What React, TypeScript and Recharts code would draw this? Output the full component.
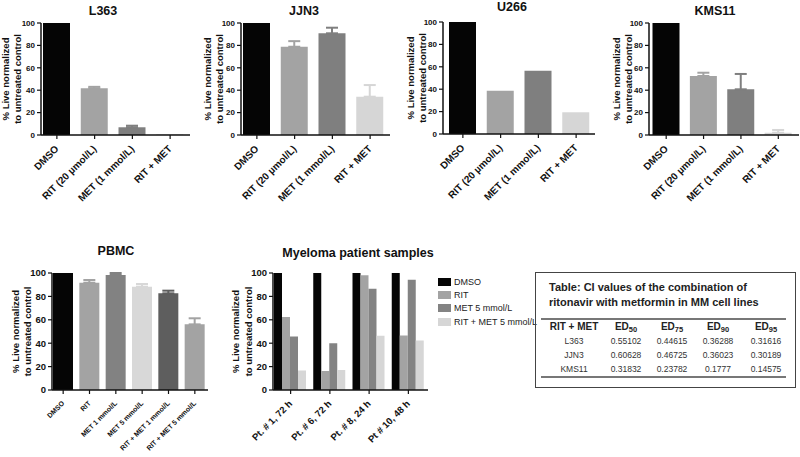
import { BarChart, Bar, XAxis, YAxis, ErrorBar, Legend } from 'recharts'

const FONT = '"Liberation Sans", Arial, Helvetica, sans-serif'
const INK = '#111'

const yTicks = [0, 20, 40, 60, 80, 100]
const yLabelLines = ['% Live normalized', 'to untreated control']

// cell line panels
const cellLineTreatments = ['DMSO', 'RIT (20 µmol/L)', 'MET (1 mmol/L)', 'RIT + MET']
const cellLineColors = ['#050505', '#a3a3a3', '#7f7f7f', '#d6d6d6']
const l363Values = [100, 41.7, 6.9, 0.7]
const l363Errors = [0, 1.3, 1.4, 0]
const jjn3Values = [100, 78.8, 90.8, 34.2]
const jjn3Errors = [0, 5, 5, 10.4]
const u266Values = [100, 38.7, 56.5, 19.4]
const u266Errors = [0, 0, 0, 0]
const kms11Values = [100, 52.7, 40.8, 2]
const kms11Errors = [0, 2.9, 13.7, 2.5]

// PBMC
const pbmcTreatments = ['DMSO', 'RIT', 'MET 1 mmol/L', 'MET 5 mmol/L', 'RIT + MET 1 mmol/L', 'RIT + MET 5 mmol/L']
const pbmcColors = ['#050505', '#a3a3a3', '#828282', '#d8d8d8', '#5e5e5e', '#a3a3a3']
const pbmcValues = [100, 91.7, 98.3, 88.3, 82.6, 56.1]
const pbmcErrors = [0, 2.3, 1.7, 2.3, 2.3, 5.2]

// patient samples
const patients = ['Pt. # 1, 72 h', 'Pt. # 6, 72 h', 'Pt. # 8, 24 h', 'Pt # 10, 48 h']
const patientSeries = ['DMSO', 'RIT', 'MET 5 mmol/L', 'RIT + MET 5 mmol/L']
const patientColors = ['#050505', '#a3a3a3', '#838383', '#d6d6d6']
const patientDmso = [100, 100, 100, 100]
const patientRit = [62.3, 16.3, 98, 46.6]
const patientMet = [45.7, 40, 86.6, 94.3]
const patientRitMet = [16.6, 17.1, 46.3, 42.3]

// CI table
const ciTitle = ['Table: CI values of the combination of', 'ritonavir with metformin in MM cell lines']
const ciDoses = ['50', '75', '90', '95']
const ciLines = ['L363', 'JJN3', 'KMS11']
const ciEd50 = ['0.55102', '0.60628', '0.31832']
const ciEd75 = ['0.44615', '0.46725', '0.23782']
const ciEd90 = ['0.36288', '0.36023', '0.1777']
const ciEd95 = ['0.31616', '0.30189', '0.14575']

function SlantTick(props: any) {
  const { x, y, payload, size } = props
  return (
    <text
      x={x}
      y={y}
      dy="0.35em"
      textAnchor="end"
      transform={`rotate(-45 ${x} ${y})`}
      fontSize={size}
      fontWeight="bold"
      fill={INK}
    >
      {payload.value}
    </text>
  )
}

function YLabel(props: any) {
  const { viewBox, xs, size } = props
  const cy = viewBox.y + viewBox.height / 2
  return (
    <g>
      {yLabelLines.map((line, i) => (
        <text
          key={line}
          x={xs[i]}
          y={cy}
          dy="0.35em"
          textAnchor="middle"
          transform={`rotate(-90 ${xs[i]} ${cy})`}
          fontSize={size}
          fontWeight="bold"
          fill={INK}
        >
          {line}
        </text>
      ))}
    </g>
  )
}

interface PanelProps {
  left: number
  top: number
  width: number
  height: number
  title: string
  titleX: number
  titleY: number
  categories: string[]
  values: number[]
  errors: number[]
  colors: string[]
  axisX: number
  plotRight: number
  plotTop: number
  plotBottom: number
  padLeft: number
  padRight: number
  barSize: number
  yTickSize: number
  xTickSize: number
  yLabelSize: number
  yLabelXs: number[]
}

// title centred on (x, y) inside its panel
function Title({ x, y, text }: { x: number; y: number; text: string }) {
  return (
    <div
      style={{
        position: 'absolute',
        left: x - 100,
        top: y - 8,
        width: 200,
        height: 16,
        fontSize: 12.5,
        lineHeight: '16px',
        fontWeight: 'bold',
        textAlign: 'center',
        whiteSpace: 'nowrap',
        zIndex: 2,
      }}
    >
      {text}
    </div>
  )
}

function ViabilityPanel(p: PanelProps) {
  const rows = p.categories.map((name, i) => {
    const row: Record<string, unknown> = { name, [`v${i}`]: p.values[i] }
    if (p.errors[i]) row[`e${i}`] = [0, p.errors[i]]
    return row
  })

  return (
    <div style={{ position: 'absolute', left: p.left, top: p.top, width: p.width, height: p.height }}>
      <BarChart
        width={p.width}
        height={p.height}
        data={rows}
        margin={{ top: p.plotTop, right: p.width - p.plotRight, bottom: 0, left: 0 }}
      >
        <XAxis
          dataKey="name"
          type="category"
          height={p.height - p.plotBottom}
          padding={{ left: p.padLeft, right: p.padRight }}
          interval={0}
          tick={<SlantTick size={p.xTickSize} />}
          tickSize={4}
          tickMargin={8}
          axisLine={{ stroke: INK, strokeWidth: 1.5 }}
          tickLine={{ stroke: INK, strokeWidth: 1.2 }}
        />
        <YAxis
          type="number"
          domain={[0, 100]}
          ticks={yTicks}
          allowDataOverflow
          width={p.axisX}
          tickSize={4}
          tickMargin={2}
          tick={{ fontSize: p.yTickSize, fontWeight: 'bold', fill: INK }}
          axisLine={{ stroke: INK, strokeWidth: 1.5 }}
          tickLine={{ stroke: INK, strokeWidth: 1.2 }}
          label={<YLabel xs={p.yLabelXs} size={p.yLabelSize} />}
        />
        {p.categories.map((_, i) => (
          <Bar
            key={i}
            dataKey={`v${i}`}
            stackId="s"
            fill={p.colors[i]}
            barSize={p.barSize}
            isAnimationActive={false}
          >
            <ErrorBar dataKey={`e${i}`} width={6} stroke={p.colors[i]} strokeWidth={2} direction="y" />
          </Bar>
        ))}
      </BarChart>
      <Title x={p.titleX} y={p.titleY} text={p.title} />
    </div>
  )
}

function PatientLegend(props: any) {
  const items = [...(props.payload || [])].sort(
    (a: any, b: any) => patientSeries.indexOf(a.value) - patientSeries.indexOf(b.value)
  )
  return (
    <div style={{ fontSize: 9, color: '#222' }}>
      {items.map((item: any) => (
        <div key={item.value} style={{ display: 'flex', alignItems: 'center', height: 13.4 }}>
          <span style={{ display: 'inline-block', width: 13, height: 8, background: item.color, marginRight: 3 }} />
          <span style={{ whiteSpace: 'nowrap' }}>{item.value}</span>
        </div>
      ))}
    </div>
  )
}

function PatientPanel() {
  const rows = patients.map((name, i) => ({
    name,
    dmso: patientDmso[i],
    rit: patientRit[i],
    met: patientMet[i],
    ritMet: patientRitMet[i],
  }))
  const keys = ['dmso', 'rit', 'met', 'ritMet']
  const width = 330
  const height = 227

  return (
    <div style={{ position: 'absolute', left: 220, top: 230, width, height }}>
      <BarChart
        width={width}
        height={height}
        data={rows}
        margin={{ top: 43, right: width - 208, bottom: 0, left: 0 }}
        barGap={0}
        barCategoryGap={3}
      >
        <XAxis
          dataKey="name"
          type="category"
          height={height - 160}
          padding={{ left: -2, right: 0 }}
          interval={0}
          tick={<SlantTick size={9.5} />}
          tickSize={4}
          tickMargin={8}
          axisLine={{ stroke: INK, strokeWidth: 1.5 }}
          tickLine={{ stroke: INK, strokeWidth: 1.2 }}
        />
        <YAxis
          type="number"
          domain={[0, 100]}
          ticks={yTicks}
          allowDataOverflow
          width={53}
          tickSize={4}
          tickMargin={2}
          tick={{ fontSize: 9.5, fontWeight: 'bold', fill: INK }}
          axisLine={{ stroke: INK, strokeWidth: 1.5 }}
          tickLine={{ stroke: INK, strokeWidth: 1.2 }}
          label={<YLabel xs={[16, 29]} size={9.5} />}
        />
        <Legend
          layout="vertical"
          align="center"
          verticalAlign="middle"
          wrapperStyle={{ left: 218, top: 45, width: 'auto' }}
          content={<PatientLegend />}
        />
        {keys.map((k, i) => (
          <Bar key={k} dataKey={k} name={patientSeries[i]} fill={patientColors[i]} isAnimationActive={false} />
        ))}
      </BarChart>
      <Title x={138} y={23} text="Myeloma patient samples" />
    </div>
  )
}

function CiTable() {
  const cols = [ciEd50, ciEd75, ciEd90, ciEd95]
  const centers = [32, 84, 130, 176, 224]
  const cell = (cx: number, cy: number, content: any, style: any, key: string) => (
    <div
      key={key}
      style={{
        position: 'absolute',
        left: 6 + cx - 40,
        top: cy - 7,
        width: 80,
        height: 14,
        lineHeight: '14px',
        textAlign: 'center',
        whiteSpace: 'nowrap',
        ...style,
      }}
    >
      {content}
    </div>
  )
  const header = { fontSize: 10, fontWeight: 'bold', color: '#222' }
  const body = { fontSize: 8.5, color: '#333' }

  return (
    <div
      style={{
        position: 'absolute',
        left: 535,
        top: 272,
        width: 261,
        height: 116,
        border: '1.5px solid #444',
        boxSizing: 'border-box',
      }}
    >
      <div
        style={{
          position: 'absolute',
          left: 13,
          top: 7,
          fontSize: 11,
          fontWeight: 'bold',
          lineHeight: '15px',
          color: '#222',
          whiteSpace: 'nowrap',
        }}
      >
        {ciTitle.map((t) => (
          <div key={t}>{t}</div>
        ))}
      </div>
      <div style={{ position: 'absolute', left: 5, top: 45, width: 245, height: 2, background: '#777' }} />
      <div style={{ position: 'absolute', left: 5, top: 103, width: 245, height: 2, background: '#777' }} />
      {cell(centers[0], 54, 'RIT + MET', header, 'h0')}
      {ciDoses.map((d, i) =>
        cell(
          centers[i + 1],
          54,
          <span>
            ED<sub style={{ fontSize: 7.5, verticalAlign: '-2px' }}>{d}</sub>
          </span>,
          header,
          `h${i + 1}`
        )
      )}
      {ciLines.map((line, r) => (
        <div key={line}>
          {cell(centers[0], 68 + r * 14, line, body, `l${r}`)}
          {cols.map((col, c) => cell(centers[c + 1], 68 + r * 14, col[r], body, `c${r}${c}`))}
        </div>
      ))}
    </div>
  )
}

export default function App() {
  const top = {
    top: 0,
    width: 200,
    height: 230,
    categories: cellLineTreatments,
    colors: cellLineColors,
    barSize: 27,
    yTickSize: 8,
    xTickSize: 10,
    yLabelSize: 9.5,
  }
  return (
    <div
      style={{
        position: 'absolute',
        left: 0,
        top: 0,
        width: 800,
        height: 457,
        overflow: 'hidden',
        background: '#fff',
        fontFamily: FONT,
        color: INK,
      }}
    >
      <ViabilityPanel
        {...top}
        left={0}
        title="L363"
        titleX={103}
        titleY={11}
        values={l363Values}
        errors={l363Errors}
        axisX={41}
        plotRight={190}
        plotTop={23}
        plotBottom={135}
        padLeft={-3}
        padRight={1}
        yLabelXs={[6, 18]}
      />
      <ViabilityPanel
        {...top}
        left={200}
        title="JJN3"
        titleX={104}
        titleY={11}
        values={jjn3Values}
        errors={jjn3Errors}
        axisX={41}
        plotRight={190}
        plotTop={23}
        plotBottom={135}
        padLeft={-3}
        padRight={1}
        yLabelXs={[8, 20]}
      />
      <ViabilityPanel
        {...top}
        left={400}
        title="U266"
        titleX={112}
        titleY={7}
        values={u266Values}
        errors={u266Errors}
        axisX={43}
        plotRight={195}
        plotTop={22}
        plotBottom={134}
        padLeft={1}
        padRight={0}
        yLabelXs={[11, 23]}
      />
      <ViabilityPanel
        {...top}
        left={600}
        title="KMS11"
        titleX={115}
        titleY={11}
        values={kms11Values}
        errors={kms11Errors}
        axisX={49}
        plotRight={199}
        plotTop={23}
        plotBottom={135}
        padLeft={-1.5}
        padRight={2}
        yLabelXs={[17, 29]}
      />
      <ViabilityPanel
        left={0}
        top={230}
        width={215}
        height={227}
        title="PBMC"
        titleX={116}
        titleY={21}
        categories={pbmcTreatments}
        values={pbmcValues}
        errors={pbmcErrors}
        colors={pbmcColors}
        axisX={52}
        plotRight={208}
        plotTop={43}
        plotBottom={160}
        padLeft={-2}
        padRight={0}
        barSize={20}
        yTickSize={9.5}
        xTickSize={7}
        yLabelSize={9.5}
        yLabelXs={[16, 28]}
      />
      <PatientPanel />
      <CiTable />
    </div>
  )
}
